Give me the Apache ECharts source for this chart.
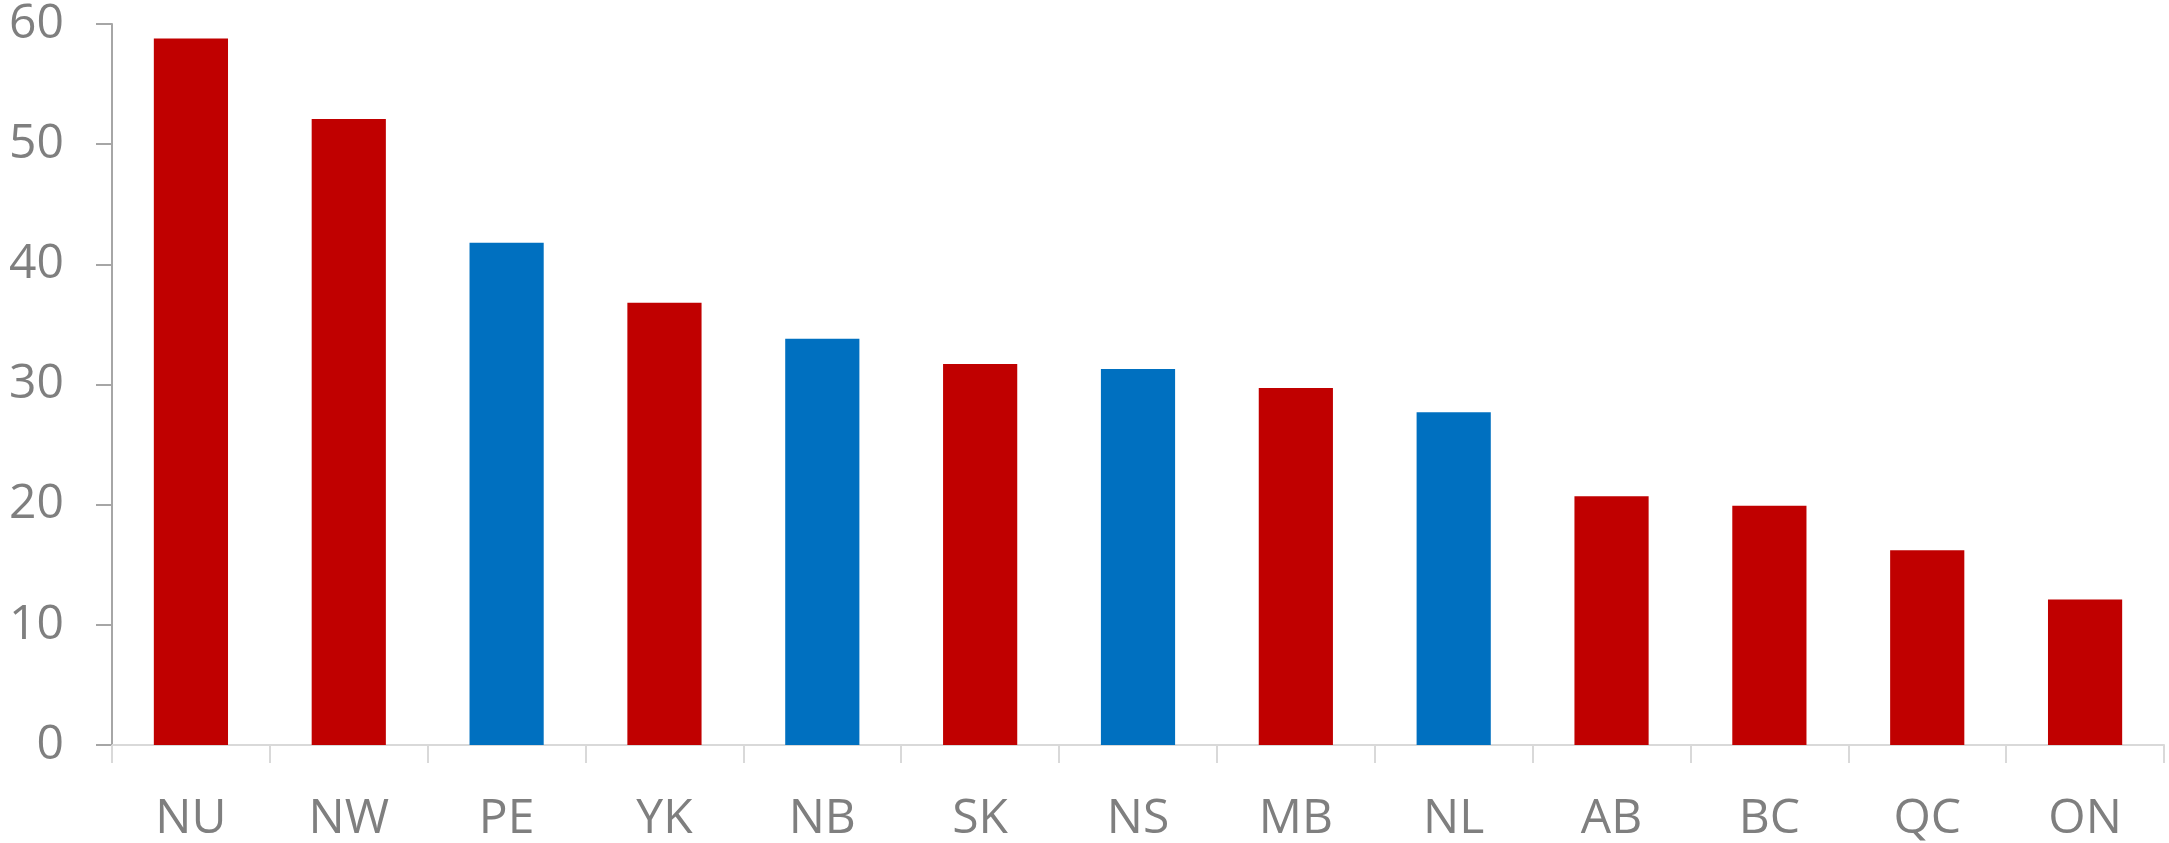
<!DOCTYPE html>
<html>
<head>
<meta charset="utf-8">
<script src="https://cdn.jsdelivr.net/npm/echarts@6/dist/echarts.min.js"></script>
<style>
  html, body { margin: 0; padding: 0; background: #fff; }
  #chart { width: 2169px; height: 843px; }
</style>
</head>
<body>
<div id="chart"></div>
<script>
  // provinces / territories, sorted by value
  const categories = ['NU', 'NW', 'PE', 'YK', 'NB', 'SK', 'NS', 'MB', 'NL', 'AB', 'BC', 'QC', 'ON']
  const values = [58.8, 52.1, 41.8, 36.8, 33.8, 31.7, 31.3, 29.7, 27.7, 20.7, 19.9, 16.2, 12.1]
  // which bars are blue
  const highlighted = ['PE', 'NB', 'NS', 'NL']
  const yTicks = [0, 10, 20, 30, 40, 50, 60]

  const RED = '#c00000'
  const BLUE = '#0070c0'

  const chart = echarts.init(document.getElementById('chart'))
  chart.setOption({
    animation: false,
    grid: { left: 112, right: 5, top: 24, bottom: 97 },
    xAxis: {
      type: 'category',
      data: categories,
      axisLine: { lineStyle: { color: '#d9d9d9', width: 2 } },
      axisTick: { show: true, length: 18, lineStyle: { color: '#d9d9d9', width: 2 } },
      axisLabel: {
        color: '#7f7f7f',
        fontFamily: 'Open Sans',
        fontSize: 48,
        margin: 50
      }
    },
    yAxis: {
      type: 'value',
      min: yTicks[0],
      max: yTicks[yTicks.length - 1],
      interval: 10,
      splitLine: { show: false },
      axisLine: { show: true, lineStyle: { color: '#a6a6a6', width: 2 } },
      axisTick: { show: true, length: 16, lineStyle: { color: '#a6a6a6', width: 2 } },
      axisLabel: {
        color: '#7f7f7f',
        fontFamily: 'Open Sans',
        fontSize: 48,
        margin: 48
      }
    },
    series: [{
      type: 'bar',
      barWidth: '47%',
      data: values.map((v, i) => ({
        value: v,
        itemStyle: { color: highlighted.includes(categories[i]) ? BLUE : RED }
      }))
    }]
  })
</script>
</body>
</html>
